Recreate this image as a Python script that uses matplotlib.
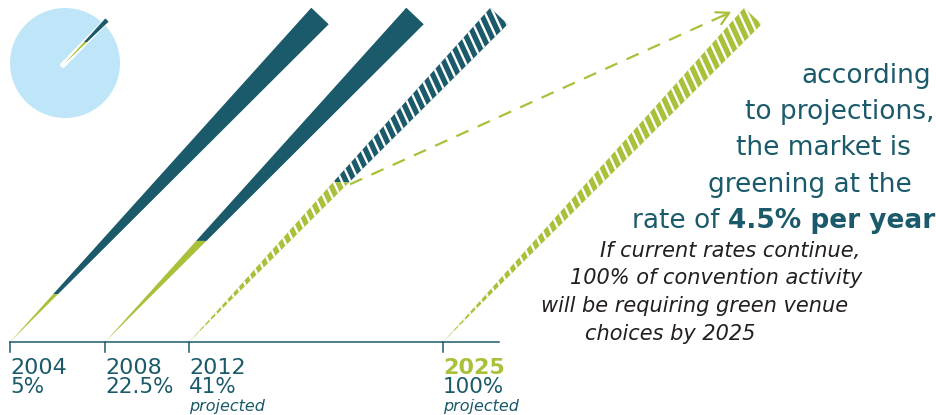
import numpy as np
import matplotlib.pyplot as plt
from matplotlib.patches import Polygon, Circle
from matplotlib.collections import LineCollection

# data
years = ['2004', '2008', '2012', '2025']
shares = ['5%', '22.5%', '41%', '100%']
projected = [False, False, True, True]
green_frac = [0.147, 0.31, 0.49, 1.0]   # part of each wedge drawn green (as drawn)

heading = ['according', 'to projections,', 'the market is', 'greening at the']
heading_last = ('rate of ', '4.5% per year')
note = ['If current rates continue,', '100% of convention activity',
        'will be requiring green venue', 'choices by 2025']

# layout (pixel units, y down)
base_x = [10, 105, 189, 443]
base_y = 342
tip_dx, tip_y, half_w = 310, 16, 12
heading_right = [931, 935, 911, 912, 935]
heading_base = [83, 119, 155, 192, 228]
note_left = [600, 570, 541, 585]
note_base = [257, 284, 312, 340]

TEAL = '#1b5a6a'
GREEN = '#a8c13a'
BLUE = '#bfe6f8'
INK = '#231f20'

fig = plt.figure(figsize=(9.37, 4.15), dpi=100)
ax = fig.add_axes([0, 0, 1, 1])
ax.set_xlim(0, 937)
ax.set_ylim(415, 0)
ax.axis('off')


def wedge(ax, apex, tip, hw, frac, hatch=False, z=1):
    apex = np.array(apex, float)
    tip = np.array(tip, float)
    u = (tip - apex) / np.linalg.norm(tip - apex)
    n = np.array([-u[1], u[0]])
    c1 = tip - hw * n
    c2 = tip + hw * n
    ys = apex[1] - frac * (apex[1] - tip[1])
    p1 = apex + (c1 - apex) * (apex[1] - ys) / (apex[1] - c1[1])
    p2 = apex + (c2 - apex) * (apex[1] - ys) / (apex[1] - c2[1])
    if frac < 1:
        ax.add_patch(Polygon([p1, c1, c2, p2], closed=True, color=TEAL, lw=0, zorder=z))
        ax.add_patch(Polygon([apex, p1, p2], closed=True, color=GREEN, lw=0, zorder=z))
    else:
        ax.add_patch(Polygon([apex, c1, c2], closed=True, color=GREEN, lw=0, zorder=z))
    if hatch:
        clip = Polygon([apex, c1, c2], closed=True, fc='none', ec='none')
        ax.add_patch(clip)
        d = np.array([0.42, 0.91])
        d = d / np.linalg.norm(d)
        L = np.linalg.norm(tip - apex)
        segs = []
        for t in np.arange(6, L + 20, 8.3):
            p = apex + t * u
            segs.append([p - 25 * d, p + 25 * d])
        lc = LineCollection(segs, colors='white', linewidths=1.7, zorder=z + 0.5)
        lc.set_clip_path(clip)
        ax.add_collection(lc)
    return (p1 + p2) / 2, c1


cuts = []
corners = []
for bx, fr, pj in zip(base_x, green_frac, projected):
    cut, c1 = wedge(ax, (bx, base_y), (bx + tip_dx, tip_y), half_w, fr, hatch=pj)
    cuts.append(cut)
    corners.append(c1)

# dashed arrow from end of 2012 green part towards the 2025 tip
start = cuts[2] + np.array([9, 2])
end = corners[3] + np.array([-13, 4])
ax.plot([start[0], end[0] - 4], [start[1], end[1] + 2], color=GREEN, lw=1.6,
        dashes=(6, 4.5))
ax.annotate('', xy=end, xytext=end + np.array([-8, 4]),
            arrowprops=dict(arrowstyle='->,head_length=0.55,head_width=0.3',
                            color=GREEN, lw=1.6, mutation_scale=16,
                            shrinkA=0, shrinkB=0))

# little pie with needle
ax.add_patch(Circle((65, 63), 55, color=BLUE, lw=0, zorder=1))
ax.plot([63, 107], [65, 20], color='white', lw=4, solid_capstyle='round', zorder=2)
wedge(ax, (64, 64), (107, 20), 2.3, 0.5, z=3)

# baseline and ticks
ax.plot([base_x[0], 499], [base_y, base_y], color=TEAL, lw=1.1)
for bx in base_x:
    ax.plot([bx, bx], [base_y, base_y + 10], color=TEAL, lw=1.1)

for bx, yr, sh, pj in zip(base_x, years, shares, projected):
    ax.text(bx, 374, yr, fontsize=16, color=GREEN if yr == '2025' else TEAL,
            fontweight='bold' if yr == '2025' else 'normal',
            ha='left', va='baseline')
    ax.text(bx, 393, sh, fontsize=15.5, color=TEAL, ha='left', va='baseline')
    if pj:
        ax.text(bx, 410.5, 'projected', fontsize=11.5, style='italic',
                color=TEAL, ha='left', va='baseline')

# heading text
hsize = 19
for line, xr, yb in zip(heading, heading_right, heading_base):
    ax.text(xr, yb, line, fontsize=hsize, color=TEAL, ha='right', va='baseline')
bold = ax.text(heading_right[-1], heading_base[-1], heading_last[1], fontsize=hsize,
               fontweight='bold', color=TEAL, ha='right', va='baseline')
fig.canvas.draw()
bb = bold.get_window_extent(fig.canvas.get_renderer())
x_left = ax.transData.inverted().transform((bb.x0, bb.y0))[0]
ax.text(x_left, heading_base[-1], heading_last[0], fontsize=hsize, color=TEAL,
        ha='right', va='baseline')

for line, xl, yb in zip(note, note_left, note_base):
    ax.text(xl, yb, line, fontsize=15, style='italic', color=INK,
            ha='left', va='baseline')

fig.savefig('out.png', dpi=100)
